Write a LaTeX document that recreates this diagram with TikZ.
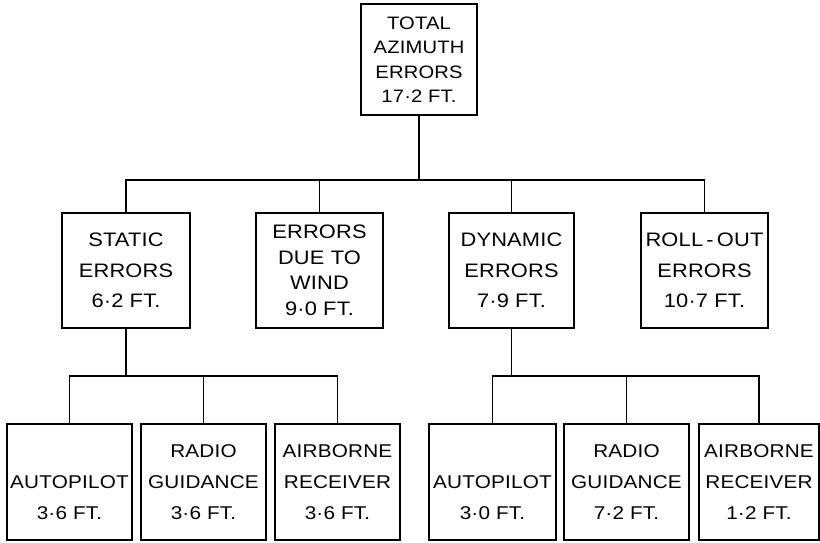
\documentclass[tikz,border=0pt]{standalone}
\usepackage{fontspec}
\setmainfont[FakeStretch=1.12,LetterSpace=1]{Liberation Sans}
\begin{document}
\begin{tikzpicture}[x=1pt,y=-1pt,
  box/.style={draw,line width=1.5pt,rectangle,inner sep=0pt,align=center,
    minimum height=115pt,font=\fontsize{19.5}{30.5}\selectfont},
  topbox/.style={box,minimum width=116pt,minimum height=111pt,font=\fontsize{18}{24.5}\selectfont},
  windbox/.style={box,font=\fontsize{19.5}{25.5}\selectfont},
  leafbox/.style={box,minimum height=116pt,font=\fontsize{18.5}{31}\selectfont},
  conn/.style={line width=1.3pt}]
\useasboundingbox (0,0) rectangle (820,542);
\node[topbox] (top) at (419,59.5) {TOTAL\\AZIMUTH\\ERRORS\\17·2 FT.};
\node[box,minimum width=128pt] (static) at (126,270.5) {STATIC\\ERRORS\\6·2 FT.};
\node[windbox,minimum width=127pt] (wind) at (319.5,270.5) {ERRORS\\DUE TO\\WIND\\9·0 FT.};
\node[box,minimum width=125pt] (dyn) at (511.5,270.5) {DYNAMIC\\ERRORS\\7·9 FT.};
\node[box,minimum width=127pt] (roll) at (704.5,270.5) {ROLL\,-\,OUT\\ERRORS\\10·7 FT.};
\node[leafbox,minimum width=125pt] (s1) at (69.5,482) {\rule{0pt}{13.5pt}\\AUTOPILOT\\3·6 FT.};
\node[leafbox,minimum width=125pt] (s2) at (203.5,482) {RADIO\\GUIDANCE\\3·6 FT.};
\node[leafbox,minimum width=125pt] (s3) at (337.5,482) {AIRBORNE\\RECEIVER\\3·6 FT.};
\node[leafbox,minimum width=127pt] (d1) at (492.5,482) {\rule{0pt}{13.5pt}\\AUTOPILOT\\3·0 FT.};
\node[leafbox,minimum width=125pt] (d2) at (626.5,482) {RADIO\\GUIDANCE\\7·2 FT.};
\node[leafbox,minimum width=120pt] (d3) at (759,482) {AIRBORNE\\RECEIVER\\1·2 FT.};
\coordinate (hbus) at (0,180);
\coordinate (lbus) at (0,376);
\draw[conn] (top.south) -- (top.south |- hbus);
\draw[conn] (static.north) -- (static.north |- hbus) -- (roll.north |- hbus) -- (roll.north);
\draw[conn] (wind.north) -- (wind.north |- hbus);
\draw[conn] (dyn.north) -- (dyn.north |- hbus);
\draw[conn] (static.south) -- (static.south |- lbus);
\draw[conn] (s1.north) -- (s1.north |- lbus) -- (s3.north |- lbus) -- (s3.north);
\draw[conn] (s2.north) -- (s2.north |- lbus);
\draw[conn] (dyn.south) -- (dyn.south |- lbus);
\draw[conn] (d1.north) -- (d1.north |- lbus) -- (d3.north |- lbus) -- (d3.north);
\draw[conn] (d2.north) -- (d2.north |- lbus);
\end{tikzpicture}
\end{document}
